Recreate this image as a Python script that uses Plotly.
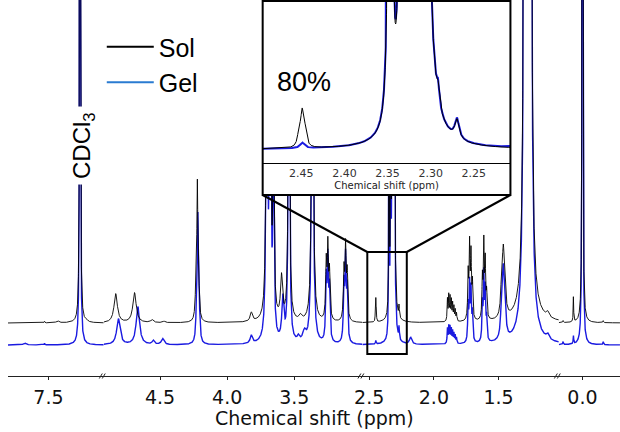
import numpy as np
import plotly.graph_objects as go

# ---------------- data ----------------
# broken main axis: ppm range of each visible segment (left -> right)
SEG_RANGES = [(7.808, 7.079), (4.919, 2.993), (2.553, 1.034), (0.183, -0.290)]
SEG_TICKS = [[7.5], [4.5, 4.0, 3.5], [2.5, 2.0, 1.5], [0.0]]
INSET_RANGE = (2.4948, 2.2075)
INSET_TICKS = [2.45, 2.40, 2.35, 2.30, 2.25]

# Sol spectrum: peak positions (ppm), heights, half-widths (ppm)
sol_ppm = [7.53, 7.43, 7.26, 7.21,
           4.83, 4.69, 4.56, 4.47, 4.232, 4.222, 4.212, 3.82,
           3.705, 3.68, 3.655, 3.595, 3.54, 3.455, 3.365,
           3.262, 3.250, 3.238, 3.130, 3.118, 3.106,
           2.4525, 2.449, 2.4455, 2.347, 2.334, 2.322, 2.309, 2.2914, 2.2695,
           1.895, 1.885, 1.875, 1.865, 1.855, 1.845, 1.835, 1.825,
           1.735, 1.724, 1.713, 1.702, 1.625, 1.614, 1.603, 1.592,
           1.475, 1.463, 1.451, 1.295, 1.275, 1.255, 1.12,
           0.15, 0.07, 0.0, -0.16]
sol_height = [1.5, 2, 3000, 1.5,
              29, 30, 3, 1.5, 30, 128, 30, 9,
              350, 350, 200, 42, 450, 5, 500,
              55, 70, 45, 48, 70, 45,
              9, 20, 9, 1300, 1300, 1667, 2270, 9, 11.5,
              22, 25, 23, 20, 17, 14, 11, 8,
              45, 72, 62, 35, 40, 74, 55, 25,
              39, 52, 32, 2250, 2250, 2250, 5,
              2, 25, 3000, 2]
sol_width = [0.003, 0.012, 0.0015, 0.01,
             0.015, 0.015, 0.012, 0.01, 0.006, 0.0045, 0.006, 0.01,
             0.006, 0.006, 0.005, 0.009, 0.005, 0.012, 0.006,
             0.005, 0.005, 0.005, 0.005, 0.005, 0.005,
             0.002, 0.002, 0.002, 0.001, 0.001, 0.0012, 0.002, 0.0015, 0.003,
             0.003, 0.003, 0.003, 0.003, 0.003, 0.003, 0.003, 0.003,
             0.004, 0.004, 0.004, 0.004, 0.004, 0.004, 0.004, 0.004,
             0.008, 0.008, 0.008, 0.005, 0.005, 0.005, 0.012,
             0.003, 0.0022, 0.0015, 0.003]

# Gel spectrum
gel_ppm = [7.68, 7.53, 7.26,
           4.81, 4.665, 4.55, 4.48, 4.228, 4.218, 4.208, 3.82,
           3.705, 3.68, 3.655, 3.585, 3.54, 3.47, 3.425, 3.365,
           3.262, 3.250, 3.238, 3.130, 3.118, 3.106,
           2.449, 2.347, 2.334, 2.322, 2.309, 2.2914, 2.2695, 2.18,
           1.895, 1.885, 1.875, 1.865, 1.855, 1.845, 1.835, 1.825,
           1.735, 1.724, 1.713, 1.702, 1.625, 1.614, 1.603, 1.592,
           1.475, 1.463, 1.451, 1.295, 1.275, 1.255, 1.12,
           0.15, 0.07, 0.0, -0.16]
gel_height = [2, 1.5, 3000,
              26, 38, 4, 6, 28, 118, 28, 8,
              350, 350, 200, 42, 450, 5, 10, 500,
              60, 78, 50, 55, 80, 50,
              3.5, 1360, 1360, 1667, 2270, 10, 12, 7,
              15, 17, 16, 14, 12, 10, 8, 6,
              36, 56, 50, 28, 36, 65, 50, 22,
              40, 54, 33, 2250, 2250, 2250, 5,
              3, 8, 3000, 3]
gel_width = [0.012, 0.003, 0.0015,
             0.015, 0.015, 0.01, 0.012, 0.006, 0.0045, 0.006, 0.01,
             0.006, 0.006, 0.005, 0.009, 0.005, 0.01, 0.015, 0.006,
             0.005, 0.005, 0.005, 0.005, 0.005, 0.005,
             0.003, 0.001, 0.001, 0.0012, 0.002, 0.0015, 0.003, 0.01,
             0.003, 0.003, 0.003, 0.003, 0.003, 0.003, 0.003, 0.003,
             0.004, 0.004, 0.004, 0.004, 0.004, 0.004, 0.004, 0.004,
             0.008, 0.008, 0.008, 0.005, 0.005, 0.005, 0.012,
             0.003, 0.0025, 0.0015, 0.003]

SOL_OFFSET = 22   # vertical stacking of the Sol trace above the Gel trace
GEL_OFFSET = 0

# ---------------- styling ----------------
W, H = 620, 432
PLOT_H = 376           # plot area height (margin bottom = 56)
SOL_COLOR = "#000000"
GEL_COLOR = "#1a1ae0"
LEG_GEL_COLOR = "#2a7bd1"
TICK_FONT = "DejaVu Sans, Verdana, sans-serif"
TEXT_FONT = "Liberation Sans, Arial, sans-serif"

BREAK_PX = [97, 359, 558]
SEG_DOMAINS = [(0, 97 / W), (97 / W, 359 / W), (359 / W, 558 / W), (558 / W, 1.0)]


def px(x):
    return x / W


def py(y):
    return (PLOT_H - y) / PLOT_H


def spectrum(x, pos, hgt, wid):
    x = np.asarray(x)[:, None]
    p = np.asarray(pos)[None, :]
    h = np.asarray(hgt)[None, :]
    g = np.asarray(wid)[None, :]
    return (h * g ** 2 / ((x - p) ** 2 + g ** 2)).sum(axis=1)


fig = go.Figure()

axis_names = ["x", "x2", "x3", "x4"]
# main spectra, one trace per axis segment
for name, (hi, lo) in zip(axis_names, SEG_RANGES):
    xs = np.arange(hi, lo, -0.0004)
    fig.add_trace(go.Scatter(x=xs, y=spectrum(xs, gel_ppm, gel_height, gel_width) + GEL_OFFSET,
                             mode="lines", line=dict(color=GEL_COLOR, width=1.4),
                             xaxis=name, yaxis="y", showlegend=False, hoverinfo="skip"))
for name, (hi, lo) in zip(axis_names, SEG_RANGES):
    xs = np.arange(hi, lo, -0.0004)
    fig.add_trace(go.Scatter(x=xs, y=spectrum(xs, sol_ppm, sol_height, sol_width) + SOL_OFFSET,
                             mode="lines", line=dict(color=SOL_COLOR, width=0.9),
                             xaxis=name, yaxis="y", showlegend=False, hoverinfo="skip"))

# inset
xi = np.arange(INSET_RANGE[0] + 0.002, INSET_RANGE[1] - 0.002, -0.0001)
fig.add_trace(go.Scatter(x=xi, y=spectrum(xi, gel_ppm, gel_height, gel_width),
                         mode="lines", line=dict(color=GEL_COLOR, width=2),
                         xaxis="x5", yaxis="y5", showlegend=False, hoverinfo="skip"))
fig.add_trace(go.Scatter(x=xi, y=spectrum(xi, sol_ppm, sol_height, sol_width),
                         mode="lines", line=dict(color=SOL_COLOR, width=1),
                         xaxis="x5", yaxis="y5", showlegend=False, hoverinfo="skip"))

# legend entries
fig.add_trace(go.Scatter(x=[None], y=[None], mode="lines", name="Sol",
                         line=dict(color=SOL_COLOR, width=2), xaxis="x", yaxis="y"))
fig.add_trace(go.Scatter(x=[None], y=[None], mode="lines", name="Gel",
                         line=dict(color=LEG_GEL_COLOR, width=2), xaxis="x", yaxis="y"))

main_y_range = [-31, 345]
inset_y_range = [-27.27, 90.9]

layout = dict(
    width=W, height=H,
    margin=dict(l=0, r=0, t=0, b=H - PLOT_H, pad=0),
    paper_bgcolor="white", plot_bgcolor="white",
    showlegend=True,
    legend=dict(x=px(95), y=py(24), xanchor="left", yanchor="top",
                font=dict(family=TEXT_FONT, size=25, color="black"),
                itemwidth=47, bgcolor="rgba(0,0,0,0)", tracegroupgap=0),
    yaxis=dict(domain=[0, 1], range=main_y_range, visible=False, anchor="x", fixedrange=True),
    yaxis5=dict(domain=[py(195), 1.0], range=inset_y_range, visible=False, anchor="x5"),
    xaxis5=dict(domain=[px(258), px(509)], range=list(INSET_RANGE), anchor="free",
                position=py(163), showline=True, linecolor="black", linewidth=1,
                tickvals=INSET_TICKS, ticktext=[f"{v:.2f}" for v in INSET_TICKS],
                ticks="", showgrid=False, zeroline=False,
                tickfont=dict(family=TICK_FONT, size=11, color="#333"),
                title=dict(text="Chemical shift (ppm)", standoff=1,
                           font=dict(family=TICK_FONT, size=10, color="#222"))),
)
for i, (name, dom, rng, tv) in enumerate(zip(axis_names, SEG_DOMAINS, SEG_RANGES, SEG_TICKS)):
    key = "xaxis" if i == 0 else f"xaxis{i+1}"
    layout[key] = dict(domain=list(dom), range=list(rng), anchor="y",
                       showline=True, linecolor="#222", linewidth=1.3,
                       tickvals=tv, ticktext=[f"{v:.1f}" for v in tv],
                       ticks="outside", ticklen=3, tickcolor="#222",
                       ticklabelstandoff=1,
                       showgrid=False, zeroline=False,
                       tickfont=dict(family=TICK_FONT, size=19, color="#111"))
fig.update_layout(**layout)

shapes = []
# white background of the inset (drawn in the inset subplot layer, above main traces)
shapes.append(dict(type="rect", xref="x5", yref="y5",
                   x0=INSET_RANGE[0] + 0.01, x1=INSET_RANGE[1] - 0.01,
                   y0=inset_y_range[0] - 10, y1=inset_y_range[1] + 10,
                   fillcolor="white", line=dict(width=0), layer="below"))
# inset frame
shapes.append(dict(type="rect", xref="paper", yref="paper",
                   x0=px(258), x1=px(509), y0=py(195), y1=py(1),
                   line=dict(color="black", width=2), layer="above"))
# zoom box and connectors
shapes.append(dict(type="rect", xref="paper", yref="paper",
                   x0=px(364), x1=px(404), y0=py(354), y1=py(252),
                   line=dict(color="black", width=2), layer="above"))
shapes.append(dict(type="line", xref="paper", yref="paper",
                   x0=px(258), y0=py(195), x1=px(364), y1=py(252),
                   line=dict(color="black", width=2), layer="above"))
shapes.append(dict(type="line", xref="paper", yref="paper",
                   x0=px(509), y0=py(195), x1=px(404), y1=py(252),
                   line=dict(color="black", width=2), layer="above"))
# axis break marks
for bx in BREAK_PX:
    for dx in (-3, 0):
        shapes.append(dict(type="line", xref="paper", yref="paper",
                           x0=px(bx + dx - 1.5), y0=py(378.5), x1=px(bx + dx + 1.5), y1=py(373.5),
                           line=dict(color="#222", width=1), layer="above"))
fig.update_layout(shapes=shapes)

annotations = [
    dict(text="CDCl<sub>3</sub>", x=px(76), y=py(146), xref="paper", yref="paper",
         xanchor="center", yanchor="middle",
         textangle=-90, showarrow=False, bgcolor="white", borderpad=5,
         font=dict(family=TEXT_FONT, size=24, color="black")),
    dict(text="80%", x=px(300), y=py(82), xref="paper", yref="paper",
         xanchor="center", yanchor="middle",
         showarrow=False, font=dict(family=TEXT_FONT, size=27, color="black")),
    dict(text="Chemical shift (ppm)", x=0.5, y=py(418), xref="paper", yref="paper",
         xanchor="center", yanchor="middle",
         showarrow=False, font=dict(family=TICK_FONT, size=19, color="#111")),
]
fig.update_layout(annotations=annotations)

fig.write_html("out.html", config={"displayModeBar": False},
               post_script="document.body.style.margin='0px';")
